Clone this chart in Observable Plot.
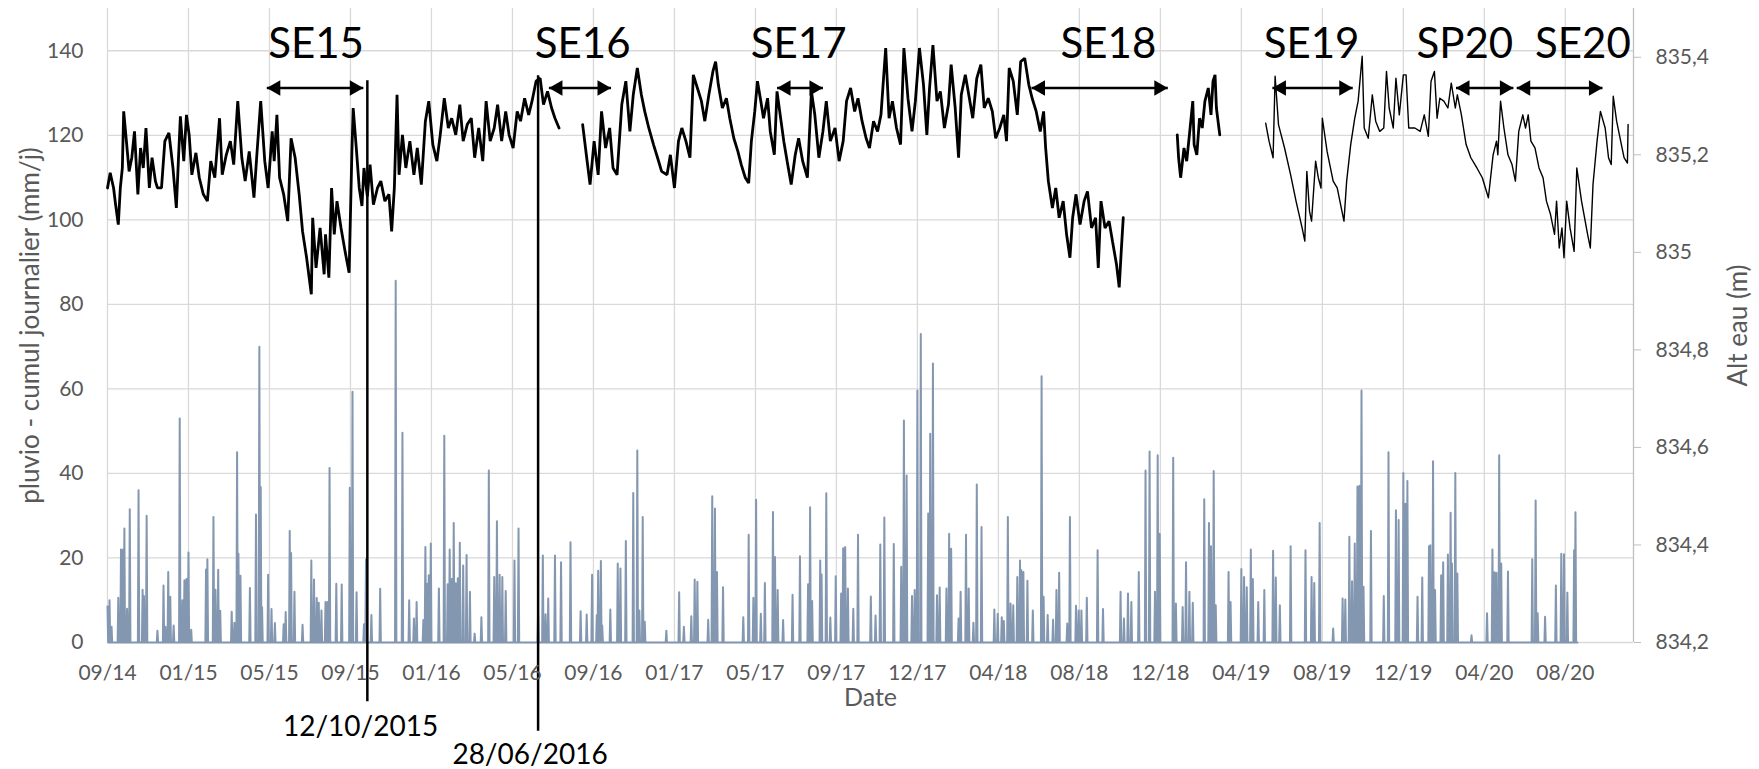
<!DOCTYPE html>
<html><head><meta charset="utf-8">
<script src="https://cdn.jsdelivr.net/npm/d3@7"></script>
<script src="https://cdn.jsdelivr.net/npm/@observablehq/plot@0.6"></script>
<style>html,body{margin:0;padding:0;background:#fff;} #chart svg{display:block;}</style>
</head><body><div id="chart"></div>
<script>
// ---------- data (day numbers count from startDate) ----------
const startDate = "2014-09-17";
const xEndDay = 2261;
const tickDates = ["2014-09-17","2015-01-15","2015-05-15","2015-09-12","2016-01-10","2016-05-09","2016-09-06","2017-01-04","2017-05-04","2017-09-01","2017-12-30","2018-04-29","2018-08-27","2018-12-25","2019-04-24","2019-08-22","2019-12-20","2020-04-18","2020-08-16"];
const tickLabels = ["09/14","01/15","05/15","09/15","01/16","05/16","09/16","01/17","05/17","09/17","12/17","04/18","08/18","12/18","04/19","08/19","12/19","04/20","08/20"];
const pluvioTicks = [0,20,40,60,80,100,120,140];
const altTicks = [834.2,834.4,834.6,834.8,835,835.2,835.4];
const pluvioDomain = [0,150];
const altDomain = [834.2,835.5];

// daily rainfall (mm/day): [day, mm]; other days 0
const lastRainDay = 2178;
const rainEvents = [[0,8.5],[3,10],[6,3.7],[16,10.6],[20,22],[23,22],[25,27],[29,8],[33,31.5],[46,36],[52,12.5],[54,11],[58,30],[74,2.8],[83,13.5],[86,3.7],[90,16.7],[93,10.8],[98,4],[107,53],[111,10],[114,14.7],[117,15],[120,21.3],[124,3],[146,17.3],[148,19.7],[157,29.7],[160,12.5],[164,17.2],[167,7.5],[184,7.3],[188,4.7],[192,45],[194,21],[197,15.8],[211,12.9],[220,30.3],[225,70],[227,36.8],[229,8.4],[238,16],[243,7.9],[248,4.6],[261,4.3],[264,7.2],[270,26.4],[272,21.2],[277,12],[289,4.2],[302,19.4],[306,14.9],[310,10.5],[313,9.4],[317,7.6],[323,9.6],[326,9.6],[329,41.3],[339,13.9],[347,13.7],[359,36.6],[361,9.6],[363,59.3],[369,11.9],[380,4.3],[383,19.7],[391,6.5],[404,12.7],[427,85.6],[437,49.6],[447,10],[454,5.7],[458,9.6],[468,5.3],[471,22.6],[474,13.9],[476,15.9],[479,23.4],[491,12.8],[499,48.9],[504,13.8],[507,22],[510,15],[513,28.3],[516,14],[519,15.2],[522,23.6],[527,18.2],[532,20.7],[537,12],[544,2.1],[554,6],[565,40.7],[573,15.5],[577,28.7],[581,16],[585,15.5],[590,12.2],[603,19.4],[609,27],[638,6.9],[645,20.6],[649,6.7],[653,10.4],[663,20.6],[672,19],[686,23.7],[701,7.4],[710,6.6],
[718,16],[725,6.5],[727,17],[731,19.3],[733,4],[745,7.8],[756,18.7],[760,17.5],[768,24],[779,35.4],[785,45.4],[788,7.6],[793,29.7],[796,4.9],[828,2.8],[847,11.9],[854,3.7],[865,6.2],[870,14.9],[874,14.4],[890,5.4],[896,34.6],[900,31.7],[903,16.7],[912,13.1],[942,6],[950,25.5],[957,10.6],[961,33.8],[968,6.8],[974,14.1],[986,30.9],[989,20.2],[993,12.4],[1001,5.3],[1015,11.3],[1026,20.4],[1038,13.8],[1041,32],[1044,9.8],[1056,19.4],[1058,16.1],[1065,35.3],[1071,5.9],[1079,15.7],[1087,11.6],[1090,22.3],[1093,22.6],[1097,12.8],[1105,8],[1112,25.5],[1131,10.9],[1138,6.4],[1145,23.2],[1151,29.6],[1165,23.3],[1176,17.9],[1180,52.5],[1184,39.5],[1192,11],[1196,12.4],[1200,59.6],[1205,73],[1216,30.5],[1219,49.4],[1223,66],[1229,11.2],[1233,13],[1243,12.8],[1247,25.7],[1250,22.2],[1261,5.7],[1264,12],[1272,25.5],[1276,12.8],[1283,4.7],[1288,37.4],[1295,27.3],[1314,7.8],[1319,6.8],[1325,6],[1328,5.1],[1334,29.7],[1338,9.2],[1342,8.8],[1348,15.5],[1352,19.4],[1354,17.1],[1357,16.7],[1363,14.6],[1371,7.6],[1384,63],[1387,10.8],[1393,6.5],[1401,5.4],[1406,12.4],[1410,16.5],[1422,4.5],[1426,29.7],[1435,8.7],[1439,7.6],[1443,7.6],[1451,10.6],[1467,21.8],[1475,7.9],[1501,12],[1506,5.7],[1512,11.6],[1517,9.6],[1528,16.7],[1538,40.7],[1544,45.2],[1552,12],[1556,44.3],[1559,25.7],[1579,43.7],[1583,9.2],[1593,8.4],[1598,19],[1603,12],[1608,9.4],[1625,33.9],[1632,28.3],[1635,22.8],[1639,40.6],[1642,8.8],[1661,16.7],[1664,9.6],[1680,17.4],[1684,15.5],[1688,13.1],[1694,22],[1697,15],[1705,9.6],[1714,12.4],[1727,21.7],[1731,15.4],[1737,8.8],[1753,22.8],[1775,21.8],[1784,15.5],[1788,14.1],[1796,28.3],[1816,3.3],[1830,10.4],[1834,10.2],[1840,25],[1844,14.5],[1848,23.4],[1852,36.9],[1855,37.1],[1858,59.6],[1861,13.2],[1872,26.4],[1891,11],[1898,45],[1909,31.3],[1913,29],[1920,40.1],[1923,32.8],[1926,38.2],[1941,10.8],[1948,15.4],[1958,22.8],[1960,23],[1964,42.9],[1967,12.4],[1976,15.9],[1979,19],[1986,20.8],[1990,30.7],[1992,18.7],[1997,40.1],[2000,16.3],[2021,1.7],[2044,6.9],[2052,22],[2055,16.6],[2058,16.5],[2062,44.3],[2065,18.7],[2075,16.8],[2111,19.7],[2116,33.6],[2119,6.9],[2130,6.1],[2146,13.5],[2154,21],[2158,20.9],[2163,11.8],[2173,21.8],[2175,30.8]];

// water altitude (m): [day, m], four recorded segments
const levelSeg1 = [[0,835.132],[4,835.163],[9,835.132],[12,835.098],[16,835.057],[19,835.132],[22,835.173],[24,835.289],[28,835.228],[32,835.166],[36,835.194],[40,835.248],[45,835.119],[49,835.214],[53,835.173],[57,835.255],[62,835.132],[66,835.194],[71,835.146],[74,835.132],[80,835.132],[85,835.228],[91,835.245],[97,835.173],[102,835.091],[105,835.187],[108,835.279],[113,835.187],[117,835.282],[121,835.241],[125,835.159],[131,835.204],[136,835.153],[142,835.119],[148,835.105],[153,835.187],[159,835.153],[166,835.275],[170,835.159],[176,835.200],[182,835.228],[187,835.180],[193,835.310],[199,835.194],[204,835.146],[210,835.207],[217,835.112],[221,835.194],[227,835.310],[233,835.187],[238,835.132],[244,835.248],[247,835.187],[251,835.282],[255,835.153],[261,835.119],[267,835.064],[272,835.234],[278,835.194],[284,835.119],[289,835.043],[295,834.989],[302,834.914],[304,835.071],[309,834.968],[315,835.050],[321,834.955],[323,835.037],[328,834.948],[332,835.132],[336,835.037],[340,835.105],[346,835.050],[352,835.002],[358,834.958],[362,835.200],[364,835.296],[369,835.207],[373,835.132],[377,835.095],[380,835.173],[385,835.115],[389,835.180],[394,835.098],[400,835.132],[405,835.146],[411,835.105],[417,835.119],[421,835.043],[425,835.132],[429,835.323],[432,835.159],[437,835.241],[442,835.173],[448,835.228],[454,835.159],[459,835.214],[465,835.139],[471,835.269],[476,835.310],[482,835.221],[488,835.187],[493,835.241],[499,835.316],[505,835.255],[510,835.275],[516,835.241],[522,835.303],[527,835.228],[533,835.262],[539,835.275],[544,835.194],[550,835.255],[556,835.187],[561,835.310],[567,835.228],[573,835.255],[578,835.303],[584,835.228],[590,835.289],[595,835.241],[601,835.214],[607,835.289],[612,835.269],[618,835.316],[624,835.282],[629,835.310],[635,835.351],[641,835.357],[646,835.303],[652,835.330],[658,835.296],[663,835.275],[669,835.255]];
const levelSeg2 = [[704,835.262],[710,835.194],[715,835.139],[721,835.228],[727,835.159],[732,835.289],[738,835.214],[744,835.255],[749,835.173],[755,835.159],[762,835.303],[768,835.351],[774,835.248],[779,835.323],[785,835.378],[791,835.323],[796,835.289],[802,835.255],[809,835.221],[815,835.194],[821,835.166],[829,835.159],[834,835.200],[840,835.132],[846,835.228],[851,835.255],[857,835.228],[863,835.194],[868,835.364],[874,835.337],[880,835.310],[885,835.269],[891,835.323],[897,835.371],[901,835.391],[905,835.344],[911,835.296],[917,835.316],[922,835.275],[928,835.234],[934,835.207],[939,835.180],[945,835.153],[950,835.142],[954,835.228],[959,835.289],[963,835.351],[968,835.310],[972,835.275],[978,835.316],[982,835.248],[988,835.200],[992,835.330],[996,835.289],[1002,835.228],[1007,835.187],[1013,835.139],[1019,835.200],[1024,835.234],[1030,835.187],[1037,835.153],[1043,835.330],[1048,835.282],[1054,835.194],[1060,835.248],[1065,835.310],[1071,835.228],[1078,835.255],[1084,835.187],[1090,835.228],[1095,835.310],[1101,835.337],[1107,835.289],[1112,835.316],[1118,835.269],[1124,835.234],[1129,835.214],[1135,835.269],[1141,835.248],[1146,835.282],[1153,835.419],[1158,835.275],[1163,835.310],[1169,835.255],[1175,835.221],[1180,835.419],[1186,835.316],[1192,835.248],[1197,835.310],[1203,835.419],[1209,835.344],[1214,835.241],[1218,835.337],[1223,835.425],[1229,835.310],[1234,835.330],[1240,835.255],[1246,835.303],[1250,835.385],[1256,835.296],[1261,835.194],[1265,835.323],[1271,835.364],[1277,835.316],[1282,835.275],[1288,835.357],[1294,835.385],[1299,835.296],[1305,835.316],[1311,835.289],[1316,835.234],[1322,835.255],[1328,835.282],[1332,835.228],[1336,835.378],[1342,835.351],[1348,835.282],[1353,835.391],[1359,835.398],[1365,835.344],[1370,835.316],[1376,835.289],[1382,835.248],[1387,835.289],[1390,835.214],[1394,835.146],[1400,835.091],[1405,835.132],[1410,835.071],[1416,835.105],[1421,835.037],[1426,834.989],[1430,835.071],[1435,835.119],[1441,835.057],[1447,835.105],[1452,835.125],[1458,835.050],[1464,835.071],[1468,834.968],[1472,835.105],[1478,835.050],[1484,835.064],[1489,835.023],[1495,834.975],[1499,834.928],[1502,835.002],[1505,835.071]];
const levelSeg3 = [[1585,835.241],[1587,835.194],[1590,835.153],[1595,835.214],[1599,835.187],[1603,835.241],[1608,835.310],[1610,835.221],[1614,835.200],[1618,835.275],[1622,835.255],[1626,835.310],[1631,835.337],[1635,835.282],[1638,835.351],[1641,835.364],[1643,835.296],[1648,835.241]];
const levelSeg4 = [[1716,835.265],[1721,835.228],[1727,835.194],[1730,835.361],[1735,835.262],[1744,835.214],[1753,835.159],[1761,835.105],[1770,835.050],[1774,835.023],[1777,835.166],[1781,835.084],[1784,835.064],[1790,835.187],[1794,835.153],[1798,835.132],[1800,835.275],[1807,835.207],[1816,835.146],[1822,835.132],[1832,835.064],[1836,835.146],[1842,835.221],[1848,835.275],[1853,835.310],[1859,835.402],[1862,835.255],[1868,835.234],[1874,835.323],[1879,835.269],[1885,835.248],[1891,835.255],[1895,835.371],[1899,835.296],[1905,835.255],[1909,835.357],[1914,835.282],[1920,835.364],[1924,835.364],[1928,835.255],[1937,835.255],[1945,835.248],[1951,835.282],[1957,835.238],[1961,835.351],[1966,835.371],[1970,835.275],[1974,835.316],[1980,835.310],[1986,835.296],[1991,835.347],[1997,835.296],[2000,835.323],[2006,835.282],[2013,835.221],[2020,835.194],[2029,835.173],[2037,835.153],[2046,835.112],[2053,835.200],[2058,835.228],[2060,835.200],[2064,835.310],[2069,835.255],[2075,835.200],[2081,835.180],[2086,835.146],[2091,835.248],[2097,835.282],[2101,835.255],[2105,835.282],[2109,835.228],[2115,835.214],[2121,835.173],[2127,835.153],[2132,835.105],[2138,835.078],[2144,835.037],[2147,835.105],[2151,835.009],[2155,835.050],[2158,834.989],[2162,835.105],[2167,835.050],[2173,835.002],[2177,835.173],[2184,835.105],[2193,835.037],[2197,835.009],[2201,835.139],[2207,835.228],[2212,835.289],[2219,835.255],[2224,835.194],[2228,835.180],[2231,835.320],[2236,835.269],[2242,835.228],[2247,835.194],[2252,835.183],[2253,835.262]];

// annotations: sampling periods (day numbers) and dated events
const periodLabels = ["SE15","SE16","SE17","SE18","SE19","SP20","SE20"];
const periodFrom   = [236, 654, 992, 1369, 1726, 1998, 2088];
const periodTo     = [379, 746, 1060, 1571, 1845, 2083, 2215];
const periodLabelAt= [309, 704, 1024, 1483, 1784, 2011, 2186];
const periodArrowLevel = 131.2;   // in pluvio units
const periodLabelLevel = 141.5;
const eventLabels = ["12/10/2015","28/06/2016"];
const eventDays   = [385, 638];
const eventTop    = [132.9, 134.1];
const eventBottom = [-14, -21];
const eventLabelDay = [375, 626];
const eventLabelLevel = [-20.1, -26.7];

// ---------- build ----------
const day0 = new Date(startDate + "T00:00:00Z").getTime();
const dayToDate = d => new Date(day0 + d * 86400000);
const toLeft = m => (m - altDomain[0]) * (pluvioDomain[1] - pluvioDomain[0]) / (altDomain[1] - altDomain[0]);
const fromLeft = v => altDomain[0] + v * (altDomain[1] - altDomain[0]) / (pluvioDomain[1] - pluvioDomain[0]);

const rainMap = new Map(rainEvents);
const rainDaily = d3.range(0, lastRainDay + 1).map(d => ({date: dayToDate(d), mm: rainMap.get(d) ?? 0}));

const levelRows = [];
[levelSeg1, levelSeg2, levelSeg3, levelSeg4].forEach((seg, i) =>
  seg.forEach(([d, m]) => levelRows.push({date: dayToDate(d), v: toLeft(m), seg: i})));

const ticks = tickDates.map(s => new Date(s + "T00:00:00Z"));
const labelByTime = new Map(ticks.map((d, i) => [+d, tickLabels[i]]));
const periods = periodLabels.map((label, i) => ({label, from: dayToDate(periodFrom[i]), to: dayToDate(periodTo[i]), at: dayToDate(periodLabelAt[i])}));
const events = eventLabels.map((label, i) => ({label, x: dayToDate(eventDays[i]), top: eventTop[i], bottom: eventBottom[i], lx: dayToDate(eventLabelDay[i]), ly: eventLabelLevel[i]}));
const xDomain = [dayToDate(0), dayToDate(xEndDay)];
const grid = "#d9d9d9";
const font = "Lato, 'Open Sans', sans-serif";

const chart = Plot.plot({
  width: 1759, height: 769,
  marginLeft: 107, marginRight: 126, marginTop: 8, marginBottom: 127,
  style: {fontFamily: font, fontSize: "21px", color: "#595959", background: "#fff", overflow: "visible"},
  x: {type: "utc", domain: xDomain},
  y: {domain: pluvioDomain},
  marks: [
    Plot.gridX(ticks, {stroke: grid, strokeOpacity: 1, strokeWidth: 1.3}),
    Plot.gridY(pluvioTicks, {stroke: grid, strokeOpacity: 1, strokeWidth: 1.3}),
    Plot.ruleX([xDomain[1]], {stroke: "#bfbfbf", strokeWidth: 1.3}),
    Plot.line(rainDaily, {x: "date", y: "mm", stroke: "#8497b0", strokeWidth: 2}),
    Plot.line(levelRows.filter(r => r.seg < 3), {x: "date", y: "v", z: "seg", stroke: "#000", strokeWidth: 2.8, strokeLinejoin: "miter"}),
    Plot.line(levelRows.filter(r => r.seg === 3), {x: "date", y: "v", z: "seg", stroke: "#000", strokeWidth: 1.4}),
    Plot.ruleX(events, {x: "x", y1: "bottom", y2: "top", stroke: "#000", strokeWidth: 2.5}),
    Plot.text(events, {x: "lx", y: "ly", text: "label", fontSize: 28, fill: "#000"}),
    Plot.link(periods, {x1: "from", x2: "to", y1: () => periodArrowLevel, y2: () => periodArrowLevel, stroke: "#000", strokeWidth: 2.5}),
    Plot.dot(periods, {x: "from", y: () => periodArrowLevel, symbol: "triangle", r: 5.8, fill: "#000", rotate: -90, dx: 9}),
    Plot.dot(periods, {x: "to", y: () => periodArrowLevel, symbol: "triangle", r: 5.8, fill: "#000", rotate: 90, dx: -9}),
    Plot.text(periods, {x: "at", y: () => periodLabelLevel, text: "label", fontSize: 42, fill: "#000"}),
    Plot.axisX(ticks, {tickSize: 0, tickPadding: 23, tickFormat: d => labelByTime.get(+d), label: null}),
    Plot.axisY(pluvioTicks, {anchor: "left", tickSize: 0, tickPadding: 24, label: null}),
    Plot.axisY(altTicks.map(toLeft), {anchor: "right", tickSize: 7, tickPadding: 15, stroke: "#bfbfbf", label: null,
      tickFormat: v => String(Math.round(fromLeft(v) * 10) / 10).replace(".", ",")}),
    Plot.text(["pluvio - cumul journalier (mm/j)"], {text: d => d, frameAnchor: "left", textAnchor: "middle", dx: -77, rotate: -90, fontSize: 26, fill: "#595959"}),
    Plot.text(["Alt eau (m)"], {text: d => d, frameAnchor: "right", textAnchor: "middle", dx: 105, rotate: -90, fontSize: 26, fill: "#595959"}),
    Plot.text(["Date"], {text: d => d, frameAnchor: "bottom", dy: 63, fontSize: 25, fill: "#595959"})
  ]
});
document.getElementById("chart").appendChild(chart);
</script>
</body></html>
